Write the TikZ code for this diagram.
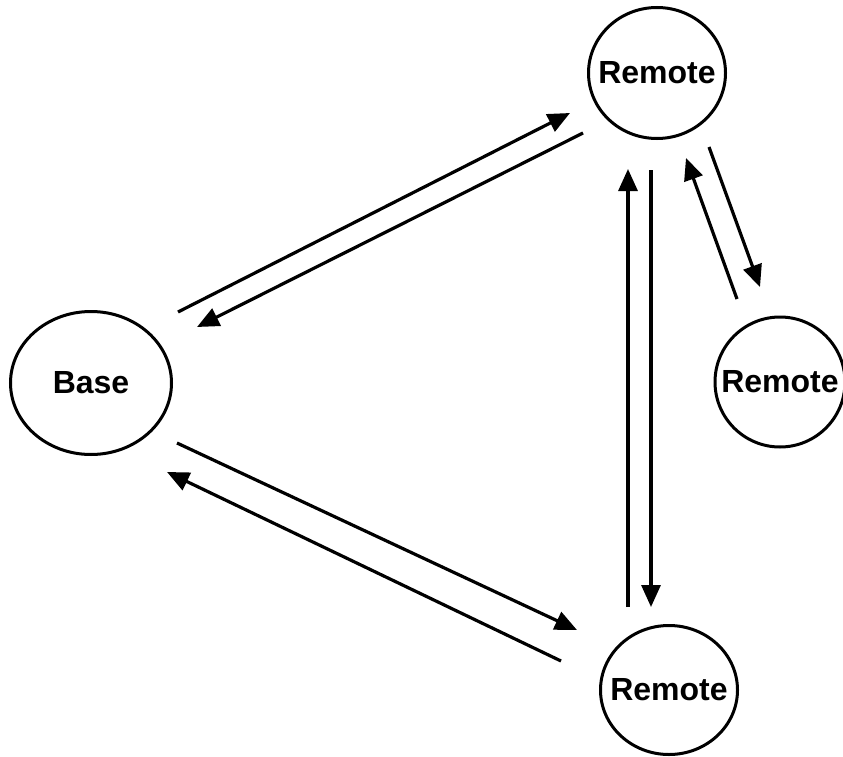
\documentclass[tikz,border=0pt]{standalone}
\usepackage{fontspec}
\setmainfont{Liberation Sans}
\usetikzlibrary{arrows.meta,shapes.geometric}
\newcommand{\stlabel}[1]{\makebox[0pt][c]{#1}}
\begin{document}
\begin{tikzpicture}[x=1pt,y=-1pt,line width=3.2pt,line cap=butt,
    >={Triangle[length=22pt,width=19pt]},
    station/.style={ellipse,draw,line width=3pt,inner sep=0pt,
        font=\fontsize{32}{32}\selectfont\bfseries},
    link/.style={->}]
    \useasboundingbox (0,0) rectangle (843,757);
    % Stationen
    \node[station,minimum width=161pt,minimum height=143pt] (base) at (91,383) {\stlabel{Base}};
    \node[station,minimum width=137pt,minimum height=131pt] (rtop) at (657,73) {\stlabel{Remote}};
    \node[station,minimum width=130pt,minimum height=130pt] (rright) at (780,382) {\stlabel{Remote}};
    \node[station,minimum width=137pt,minimum height=129pt] (rbot) at (669,690) {\stlabel{Remote}};
    % Endpunkte der Verbindungen
    \coordinate (bt0) at (178,312); \coordinate (bt1) at (570,113);
    \coordinate (tb0) at (583,133); \coordinate (tb1) at (197,327);
    \coordinate (tm0) at (651,170); \coordinate (tm1) at (651,607);
    \coordinate (mt0) at (628,607); \coordinate (mt1) at (628,169);
    \coordinate (tr0) at (709,147); \coordinate (tr1) at (760,287);
    \coordinate (rt0) at (737,299); \coordinate (rt1) at (686,158);
    \coordinate (bm0) at (177,443); \coordinate (bm1) at (577,630);
    \coordinate (mb0) at (561,661); \coordinate (mb1) at (167,472);
    % Verbindungen
    \draw[link] (bt0)--(bt1);
    \draw[link] (tb0)--(tb1);
    \draw[link] (tm0)--(tm1);
    \draw[link] (mt0)--(mt1);
    \draw[link] (tr0)--(tr1);
    \draw[link] (rt0)--(rt1);
    \draw[link] (bm0)--(bm1);
    \draw[link] (mb0)--(mb1);
\end{tikzpicture}
\end{document}
